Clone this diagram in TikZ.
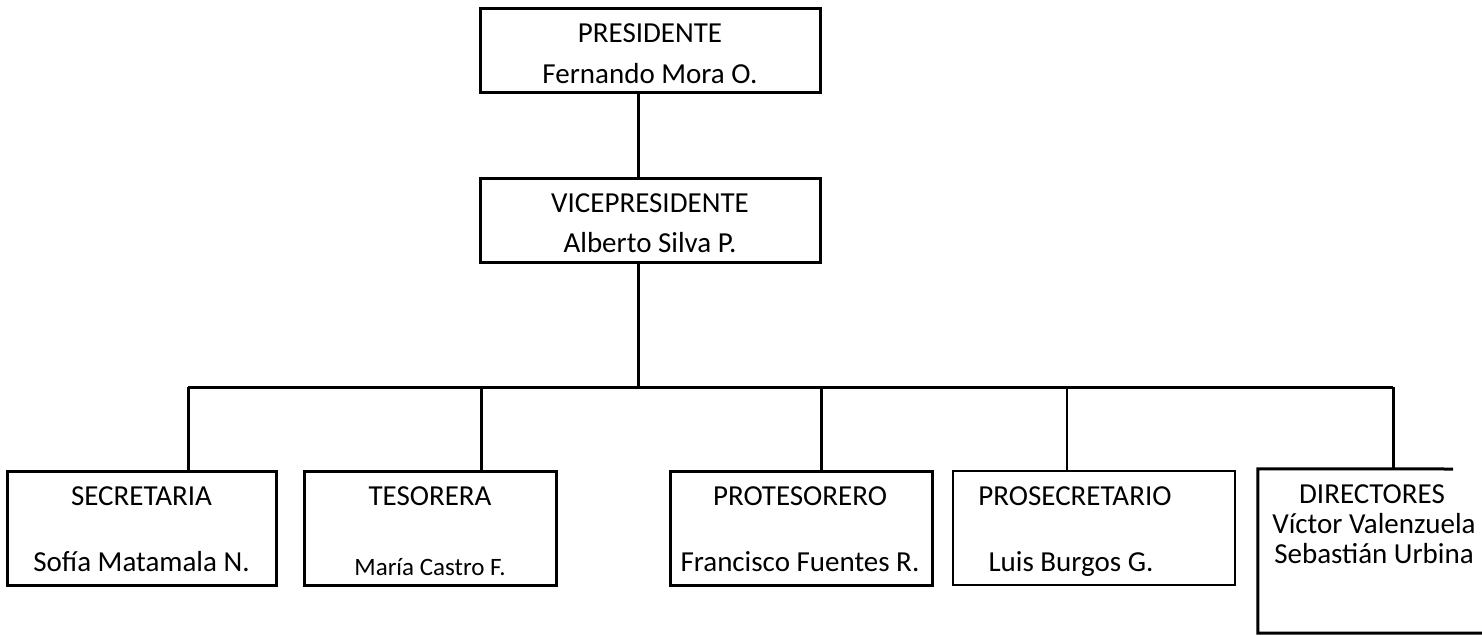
\documentclass[tikz,border=0pt]{standalone}
\usepackage{fontspec}
\setmainfont{Carlito}
\begin{document}
\begin{tikzpicture}[x=1pt,y=-1pt,
  box/.style={draw, line width=3pt, inner sep=0pt},
  thinbox/.style={draw, line width=2pt, inner sep=0pt},
  conn/.style={line width=3pt},
  thinconn/.style={line width=2pt},
  lbl/.style={inner sep=0pt, anchor=base, font=\fontsize{29}{35}\selectfont},
  smalllbl/.style={inner sep=0pt, anchor=base, font=\fontsize{25}{30}\selectfont}]
\useasboundingbox (0,0) rectangle (1482,635);

% top boxes
\node[box, minimum width=340pt, minimum height=84pt] (pres) at (650,50) {};
\node[box, minimum width=340pt, minimum height=84pt] (vp) at (650,220) {};
\node[lbl] (presT) at (650,42) {PRESIDENTE};
\node[lbl] (presN) at (650,83) {Fernando Mora O.};
\node[lbl] (vpT) at (650,212) {VICEPRESIDENTE};
\node[lbl] (vpN) at (650,252) {Alberto Silva P.};

% bottom boxes
\node[box, minimum width=269pt, minimum height=114pt] (sec) at (141.5,528) {};
\node[box, minimum width=252pt, minimum height=114pt] (tes) at (430,528) {};
\node[box, minimum width=262pt, minimum height=114pt] (prot) at (801,528) {};
\node[thinbox, minimum width=282pt, minimum height=114pt] (pros) at (1094,528) {};
\node[inner sep=0pt, minimum width=224pt, minimum height=164pt] (dir) at (1370,551) {};
\coordinate (dirTR) at (1453,469);
\draw[conn] (dirTR) -- (dir.north west) -- (dir.south west) -- (dir.south east);

\node[lbl] (secT) at (141.5,505) {SECRETARIA};
\node[lbl] (secN) at (141.5,571) {Sofía Matamala N.};
\node[lbl] (tesT) at (430,505) {TESORERA};
\node[smalllbl] (tesN) at (430,575) {María Castro F.};
\node[lbl] (protT) at (800,505) {PROTESORERO};
\node[lbl] (protN) at (800,571) {Francisco Fuentes R.};
\node[lbl] (prosT) at (1075,505) {PROSECRETARIO};
\node[lbl] (prosN) at (1071,571) {Luis Burgos G.};
\node[lbl] (dirT) at (1372,503) {DIRECTORES};
\node[lbl] (dirN1) at (1374,533) {Víctor Valenzuela};
\node[lbl] (dirN2) at (1374,563) {Sebastián Urbina};

% connectors
\coordinate (trunk) at (638,387);
\coordinate (b1) at (188,387);
\coordinate (b2) at (481,387);
\coordinate (b3) at (821,387);
\coordinate (b4) at (1067,387);
\coordinate (b5) at (1393,387);
\draw[conn] (pres.south -| trunk) -- (vp.north -| trunk);
\draw[conn] (vp.south -| trunk) -- (trunk);
\draw[conn] (b1) -- (b5);
\draw[conn] (b1) -- (sec.north -| b1);
\draw[conn] (b2) -- (tes.north -| b2);
\draw[conn] (b3) -- (prot.north -| b3);
\draw[thinconn] (b4) -- (pros.north -| b4);
\draw[conn] (b5) -- (dir.north -| b5);
\end{tikzpicture}
\end{document}
